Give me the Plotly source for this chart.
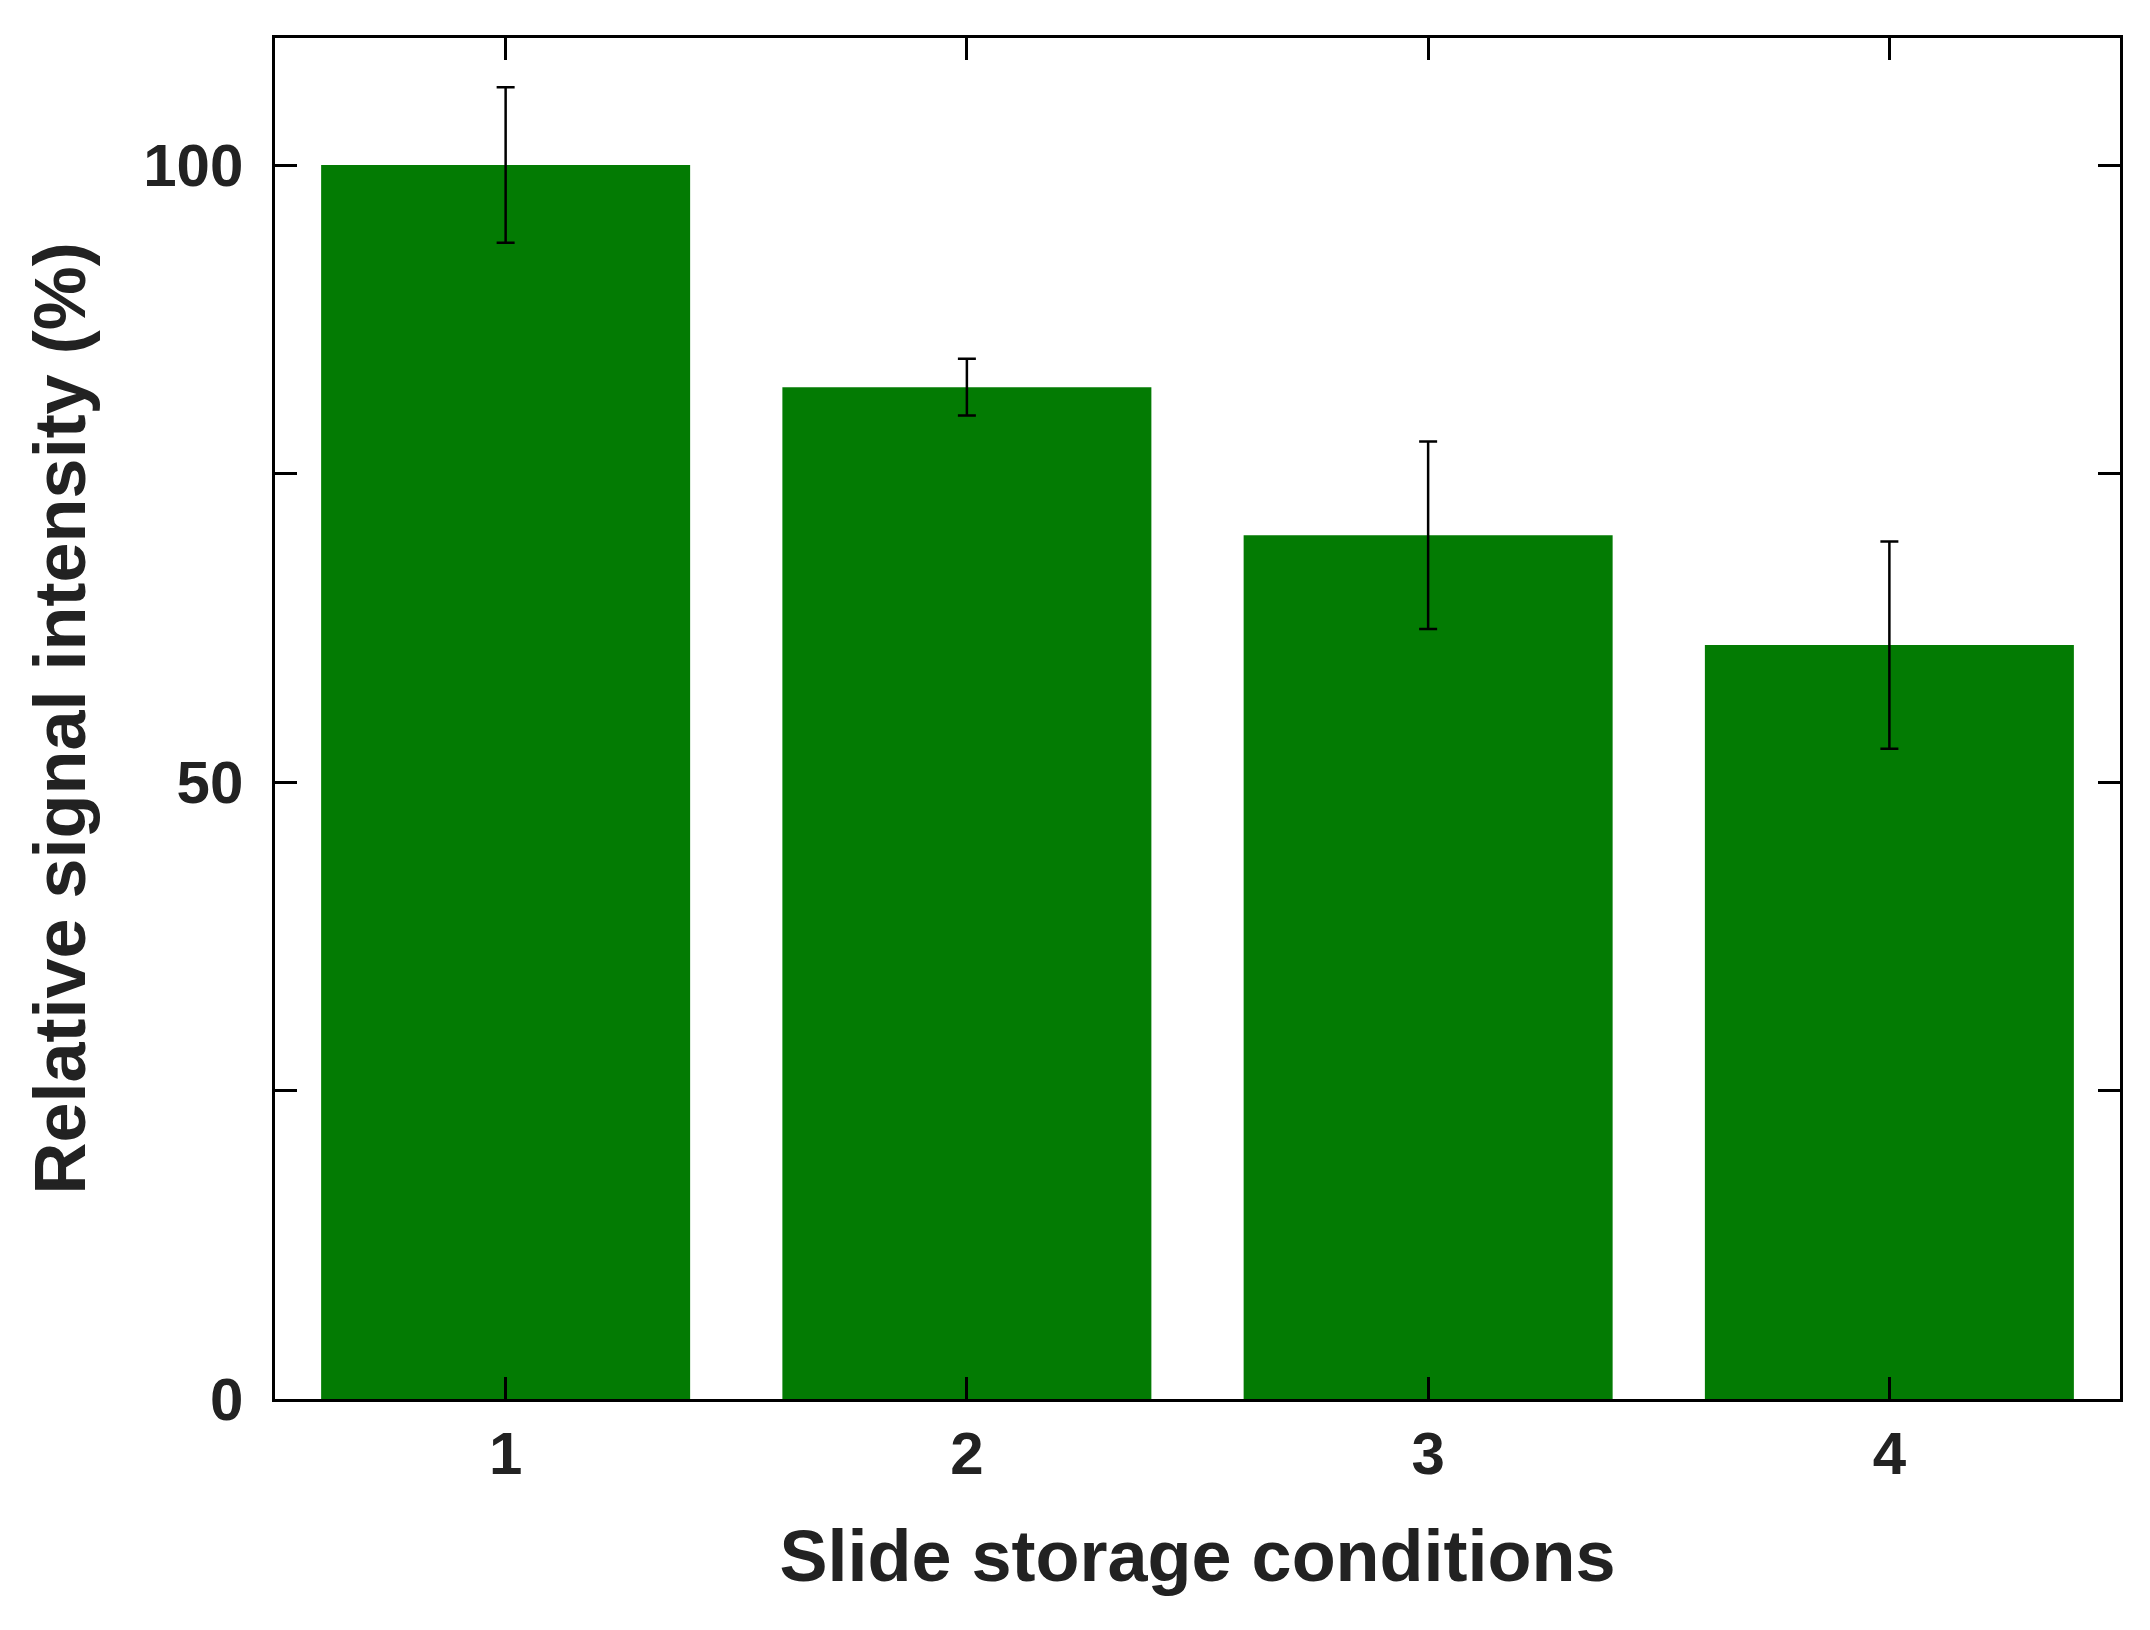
import plotly.graph_objects as go

categories = [1, 2, 3, 4]
values = [100.0, 82.0, 70.0, 61.1]
errors = [6.3, 2.3, 7.6, 8.4]

fig = go.Figure(go.Bar(
    x=categories, y=values, width=0.8,
    marker=dict(color="#037b03", line=dict(width=0)),
    error_y=dict(type="data", array=errors, color="black", thickness=2.5, width=9),
))
axis_common = dict(showline=True, linecolor="black", linewidth=3, mirror="ticks",
                   ticks="inside", ticklen=22, tickwidth=3, tickcolor="black",
                   showgrid=False, zeroline=False,
                   tickfont=dict(family="Liberation Sans", size=60, color="#222"))
fig.update_xaxes(range=[0.5, 4.5], tickvals=categories,
                 ticktext=["<b>1</b>", "<b>2</b>", "<b>3</b>", "<b>4</b>"],
                 title=dict(text="<b>Slide storage conditions</b>", standoff=45,
                            font=dict(family="Liberation Sans", size=72, color="#222")),
                 **axis_common)
fig.update_yaxes(range=[0, 110.3], tickvals=[0, 25, 50, 75, 100],
                 ticktext=["<b>0</b> ", "", "<b>50</b> ", "", "<b>100</b> "],
                 title=dict(text="<b>Relative signal intensity (%)</b>", standoff=35,
                            font=dict(family="Liberation Sans", size=72, color="#222")),
                 **axis_common)
fig.update_layout(width=2150, height=1630, plot_bgcolor="white", paper_bgcolor="white",
                  margin=dict(l=267, r=38, t=30, b=239), showlegend=False)
fig.write_html("out.html")
